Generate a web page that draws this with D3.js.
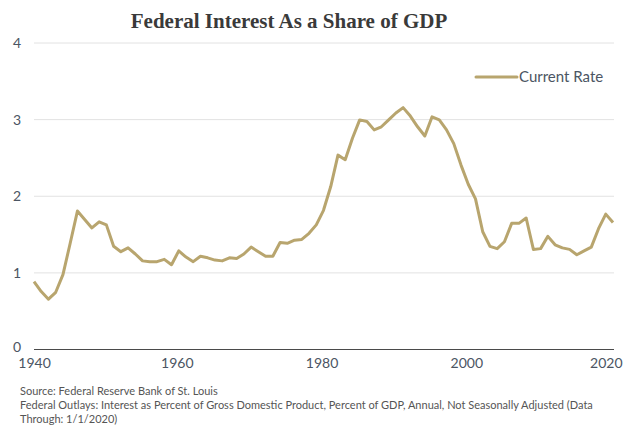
<!DOCTYPE html>
<html>
<head>
<meta charset="utf-8">
<script src="https://cdn.jsdelivr.net/npm/d3@7"></script>
<style>
  body { margin: 0; background: #fff; }
  svg { display: block; }
</style>
</head>
<body>
<div id="chart"></div>
<script>
// data (FRED, interest as % of GDP)
var years = [
  1940, 1941, 1942, 1943, 1944, 1945, 1946, 1947, 1948, 1949,
  1950, 1951, 1952, 1953, 1954, 1955, 1956, 1957, 1958, 1959,
  1960, 1961, 1962, 1963, 1964, 1965, 1966, 1967, 1968, 1969,
  1970, 1971, 1972, 1973, 1974, 1975, 1976, 1977, 1978, 1979,
  1980, 1981, 1982, 1983, 1984, 1985, 1986, 1987, 1988, 1989,
  1990, 1991, 1992, 1993, 1994, 1995, 1996, 1997, 1998, 1999,
  2000, 2001, 2002, 2003, 2004, 2005, 2006, 2007, 2008, 2009,
  2010, 2011, 2012, 2013, 2014, 2015, 2016, 2017, 2018, 2019,
  2020
];
var currentRate = [
  0.88, 0.75, 0.65, 0.74, 0.97, 1.38, 1.80, 1.69, 1.58, 1.66,
  1.62, 1.34, 1.27, 1.32, 1.24, 1.15, 1.14, 1.14, 1.17, 1.10,
  1.28, 1.20, 1.14, 1.21, 1.19, 1.16, 1.15, 1.19, 1.18, 1.24,
  1.33, 1.27, 1.21, 1.21, 1.39, 1.38, 1.42, 1.43, 1.51, 1.62,
  1.81, 2.12, 2.53, 2.47, 2.75, 2.99, 2.97, 2.86, 2.90, 2.99,
  3.08, 3.15, 3.04, 2.90, 2.78, 3.03, 2.99, 2.86, 2.68, 2.40,
  2.15, 1.96, 1.53, 1.34, 1.31, 1.40, 1.64, 1.64, 1.71, 1.30,
  1.31, 1.47, 1.36, 1.32, 1.30, 1.23, 1.28, 1.33, 1.57, 1.76,
  1.65
];
var yTicks = [0, 1, 2, 3, 4];
var xTicks = [1940, 1960, 1980, 2000, 2020];
var seriesName = "Current Rate";
var titleText = "Federal Interest As a Share of GDP";
var sourceLines = [
  "Source: Federal Reserve Bank of St. Louis",
  "Federal Outlays: Interest as Percent of Gross Domestic Product, Percent of GDP, Annual, Not Seasonally Adjusted (Data",
  "Through: 1/1/2020)"
];

var attrs = {
  width: 641,
  height: 427,
  plotLeft: 34,
  plotRight: 613,
  gridRight: 614,
  plotTop: 42.5,
  plotBottom: 349,
  lineColor: "#b8a56e",
  gridColor: "#e2e2e2",
  baseColor: "#4a4a4a",
  labelColor: "#4b5563",
  textFont: "Lato, 'Open Sans', sans-serif"
};

var svg = d3.select("#chart").append("svg")
  .attr("width", attrs.width)
  .attr("height", attrs.height);

var x = d3.scaleLinear()
  .domain([1940, 2020])
  .range([attrs.plotLeft, attrs.plotRight]);

var y = d3.scaleLinear()
  .domain([0, 4])
  .range([attrs.plotBottom, attrs.plotTop]);

// title
svg.append("text")
  .attr("x", 289)
  .attr("y", 28)
  .attr("text-anchor", "middle")
  .attr("font-family", "'Liberation Serif', 'DejaVu Serif', serif")
  .attr("font-weight", "bold")
  .attr("font-size", 21)
  .attr("fill", "#3a3a3a")
  .text(titleText);

// y grid + labels
var yAxis = d3.axisLeft(y)
  .tickValues(yTicks)
  .tickSize(-(attrs.gridRight - attrs.plotLeft))
  .tickPadding(12)
  .tickFormat(d3.format("d"));

var yG = svg.append("g")
  .attr("transform", "translate(" + attrs.plotLeft + ",0)")
  .call(yAxis);
yG.select(".domain").remove();
yG.selectAll(".tick line")
  .attr("stroke", function(d) { return d === 0 ? attrs.baseColor : attrs.gridColor; })
  .attr("stroke-width", function(d) { return d === 0 ? 1.2 : 1; });
yG.selectAll(".tick text")
  .attr("x", -13)
  .attr("dy", function(d) { return d === 0 ? "0.2em" : "0.35em"; })
  .attr("font-family", attrs.textFont)
  .attr("font-size", 14)
  .attr("fill", attrs.labelColor);

// x labels
var xAxis = d3.axisBottom(x)
  .tickValues(xTicks)
  .tickSize(0)
  .tickPadding(9)
  .tickFormat(d3.format("d"));

var xG = svg.append("g")
  .attr("transform", "translate(0," + attrs.plotBottom + ")")
  .call(xAxis);
xG.select(".domain").remove();
xG.selectAll(".tick text")
  .attr("font-family", attrs.textFont)
  .attr("font-size", 14)
  .attr("fill", attrs.labelColor)
  .attr("text-anchor", function(d) { return d === 2020 ? "end" : "middle"; })
  .attr("dx", function(d) { return d === 2020 ? 9 : (d === 1940 ? 0 : -2); });

// the line
var points = years.map(function(yr, i) { return [yr, currentRate[i]]; });
var line = d3.line()
  .x(function(d) { return x(d[0]); })
  .y(function(d) { return y(d[1]); });

svg.append("path")
  .datum(points)
  .attr("fill", "none")
  .attr("stroke", attrs.lineColor)
  .attr("stroke-width", 3)
  .attr("stroke-linejoin", "round")
  .attr("d", line);

// legend
var legend = svg.append("g").attr("transform", "translate(476,77)");
legend.append("line")
  .attr("x1", 0).attr("x2", 41)
  .attr("stroke", attrs.lineColor)
  .attr("stroke-width", 3)
  .attr("stroke-linecap", "round");
legend.append("text")
  .attr("x", 43)
  .attr("dy", "0.35em")
  .attr("font-family", attrs.textFont)
  .attr("font-size", 15)
  .attr("fill", attrs.labelColor)
  .text(seriesName);

// source notes
svg.append("g").selectAll("text")
  .data(sourceLines)
  .join("text")
  .attr("x", 20)
  .attr("y", function(d, i) { return 395 + i * 14; })
  .attr("font-family", attrs.textFont)
  .attr("font-size", 11)
  .attr("fill", "#555")
  .text(function(d) { return d; });
</script>
</body>
</html>
